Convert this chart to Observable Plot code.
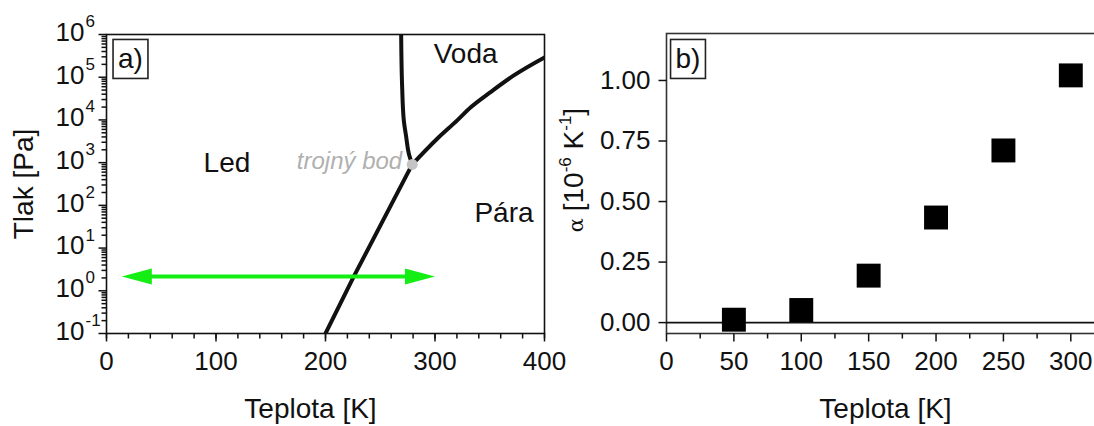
<!DOCTYPE html>
<html>
<head>
<meta charset="utf-8">
<script src="https://cdn.jsdelivr.net/npm/d3@7"></script>
<script src="https://cdn.jsdelivr.net/npm/@observablehq/plot@0.6"></script>
<style>
  html, body { margin: 0; padding: 0; background: #fff; overflow: hidden; }
  #wrap { position: relative; width: 1094px; height: 426px; overflow: hidden; color: #111; }
  #a, #b { position: absolute; top: 0; }
  #a { left: 0; width: 560px; }
  #b { left: 560px; width: 544px; }
  #wrap svg { max-width: none; overflow: visible; }
</style>
</head>
<body>
<div id="wrap"><div id="a"></div><div id="b"></div></div>
<script>
// ---- Panel a): phase diagram of water (T in K, p in Pa) ----
const decades = [-1, 0, 1, 2, 3, 4, 5, 6];
const xTicksA = [0, 100, 200, 300, 400];
const xDomainA = [0, 400];
const yDomainA = [0.1, 1e6];

// ice / vapour boundary
const sublimT = [200, 226, 279.2];
const sublimP = [0.1, 2.2, 910];
// ice / water boundary
const meltT = [279.2, 276, 273.7, 271.5, 270, 269.1];
const meltP = [910, 1660, 4000, 9800, 59000, 1e6];
// water / vapour boundary
const vapT = [279.2, 302, 320.3, 332.4, 350.7, 372, 400];
const vapP = [910, 3630, 9770, 19500, 44700, 110000, 290000];

const tripleT = 279.2, tripleP = 910;
const arrowT = [14, 300];
const arrowP = 2.16;

const phaseNames = ["Led", "Voda", "Pára"];
const phaseT = [110, 328, 363];
const phaseP = [955, 3.4e5, 66];

// ---- Panel b): thermal expansion coefficient ----
const xTicksB = [0, 50, 100, 150, 200, 250, 300];
const yTicksB = [0, 0.25, 0.5, 0.75, 1.0];
const xDomainB = [0, 325];
const yDomainB = [-0.045, 1.194];
const alphaT = [50, 100, 150, 200, 250, 300];
const alphaV = [0.012, 0.052, 0.194, 0.434, 0.711, 1.021];

const font = "'Liberation Sans', Arial, Helvetica, sans-serif";
const ink = "#111";
const green = "#14ee14";
const SVGNS = "http://www.w3.org/2000/svg";

const pairs = (xs, ys) => xs.map((x, i) => ({x, y: ys[i]}));

// minor tick positions
const xMinorA = d3.range(0, 401, 20);
const yMinorA = [];
for (let n = -1; n < 6; n++) for (let k = 2; k <= 9; k++) yMinorA.push(k * 10 ** n);
const xMinorB = d3.range(25, 326, 50);

const H = 426;
const MAJOR = 8, MINOR = 5;

// tick marks: small filled bars drawn outward from the frame edge
const barShape = {draw(context, l, r) { context.rect(-r, -l, 2 * r, l); }};
const bottomTicks = (ticks, yEdge, len) =>
  Plot.vector(ticks, {x: d => d, y: yEdge, length: len, r: 0.75, rotate: 180, anchor: "start",
                      shape: barShape, fill: ink, stroke: "none"});
const leftTicks = (ticks, xEdge, len) =>
  Plot.vector(ticks, {x: xEdge, y: d => d, length: len, r: 0.75, rotate: -90, anchor: "start",
                      shape: barShape, fill: ink, stroke: "none"});

const labelStyle = {label: null, tickSize: 0, fill: ink};

const plotA = Plot.plot({
  width: 560, height: H,
  marginTop: 34, marginRight: 16, marginBottom: 93, marginLeft: 106,
  style: {fontFamily: font, fontSize: "26px", color: ink, overflow: "visible"},
  x: {domain: xDomainA},
  y: {type: "log", domain: yDomainA},
  marks: [
    Plot.frame({stroke: ink, strokeWidth: 1.6}),
    bottomTicks(xMinorA, yDomainA[0], MINOR),
    bottomTicks(xTicksA, yDomainA[0], MAJOR),
    leftTicks(yMinorA, xDomainA[0], MINOR),
    leftTicks(decades.map(d => 10 ** d), xDomainA[0], MAJOR),
    Plot.axisX({...labelStyle, ticks: xTicksA, tickPadding: MAJOR + 10}),
    Plot.axisY({...labelStyle, ticks: decades.map(d => 10 ** d), tickPadding: MAJOR + 14, dy: -2,
                tickFormat: () => "10"}),
    Plot.text(decades, {y: d => 10 ** d, text: d => String(d), frameAnchor: "left",
                        textAnchor: "start", lineAnchor: "middle", dx: -21, dy: -13, fontSize: 17, fill: ink}),
    Plot.line(pairs(sublimT, sublimP), {x: "x", y: "y", stroke: ink, strokeWidth: 4, clip: true}),
    Plot.line(pairs(meltT, meltP), {x: "x", y: "y", stroke: ink, strokeWidth: 4, curve: "monotone-y", clip: true}),
    Plot.line(pairs(vapT, vapP), {x: "x", y: "y", stroke: ink, strokeWidth: 4, curve: "monotone-x", clip: true}),
    Plot.dot([tripleT], {x: d => d, y: tripleP, r: 5.5, fill: "#c4c4c4", stroke: "none"}),
    Plot.text([tripleT], {x: d => d, y: tripleP, text: () => "trojný bod", textAnchor: "end",
                          dx: -10, dy: -3, fontStyle: "italic", fill: "#b0b0b0", fontSize: 24}),
    Plot.text(phaseNames, {x: (d, i) => phaseT[i], y: (d, i) => phaseP[i], text: d => d,
                           fontSize: 28, fill: ink}),
    Plot.arrow([arrowT], {x1: d => d[0], x2: d => d[1], y1: arrowP, y2: arrowP,
                          insetStart: 26, insetEnd: 26, headLength: 0, stroke: green, strokeWidth: 4}),
    Plot.vector(arrowT, {x: d => d, y: arrowP, rotate: (d, i) => (i ? 90 : -90), length: 30, r: 8,
                         shape: "spike", anchor: "end", fill: green, stroke: "none"}),
    Plot.text(["a)"], {text: d => d, frameAnchor: "top-left", textAnchor: "middle", lineAnchor: "middle",
                       dx: 24, dy: 25, fontSize: 28, fill: ink, className: "panel-tag"}),
    Plot.text(["Tlak [Pa]"], {text: d => d, frameAnchor: "left", textAnchor: "middle", lineAnchor: "middle",
                              rotate: -90, dx: -82, fontSize: 28, fill: ink}),
    Plot.text(["Teplota [K]"], {text: d => d, frameAnchor: "bottom", textAnchor: "middle", lineAnchor: "middle",
                                dx: -15, dy: 76, fontSize: 28, fill: ink})
  ]
});

const plotB = Plot.plot({
  width: 544, height: H,
  marginTop: 33, marginRight: 0, marginBottom: 93, marginLeft: 106,
  style: {fontFamily: font, fontSize: "26px", color: ink, overflow: "visible"},
  x: {domain: xDomainB},
  y: {domain: yDomainB},
  marks: [
    Plot.frame({stroke: "#333", strokeWidth: 1.6}),
    Plot.ruleY([0], {stroke: ink, strokeWidth: 1.6}),
    bottomTicks(xMinorB, yDomainB[0], MINOR),
    bottomTicks(xTicksB, yDomainB[0], MAJOR),
    leftTicks(yTicksB, xDomainB[0], MAJOR),
    Plot.axisX({...labelStyle, ticks: xTicksB, tickPadding: MAJOR + 10}),
    Plot.axisY({...labelStyle, ticks: yTicksB, tickPadding: MAJOR + 8, tickFormat: d3.format(".2f")}),
    Plot.dot(pairs(alphaT, alphaV), {x: "x", y: "y", symbol: "square", r: 13.5, fill: "#000", stroke: "none"}),
    Plot.text(["b)"], {text: d => d, frameAnchor: "top-left", textAnchor: "middle", lineAnchor: "middle",
                       dx: 21.5, dy: 26, fontSize: 28, fill: ink, className: "panel-tag"}),
    Plot.text(["Teplota [K]"], {text: d => d, frameAnchor: "bottom", textAnchor: "middle", lineAnchor: "middle",
                                dy: 76, fontSize: 28, fill: ink})
  ]
});

document.getElementById("a").append(plotA);
document.getElementById("b").append(plotB);

// framed panel tags
function boxTags(svg) {
  svg.querySelectorAll(".panel-tag text").forEach(t => {
    const b = t.getBBox();
    const padX = 5, padY = 6;
    const r = document.createElementNS(SVGNS, "rect");
    r.setAttribute("x", b.x - padX);
    r.setAttribute("y", b.y - padY + 2);
    r.setAttribute("width", b.width + 2 * padX);
    r.setAttribute("height", b.height + 2 * padY - 4);
    r.setAttribute("fill", "none");
    r.setAttribute("stroke", "#222");
    r.setAttribute("stroke-width", 1.6);
    const tr = t.getAttribute("transform");
    if (tr) r.setAttribute("transform", tr);
    t.parentNode.insertBefore(r, t);
  });
}
boxTags(plotA);
boxTags(plotB);

// y title of panel b) with superscripts
const yt = d3.select(plotB).append("text")
  .attr("transform", "translate(23,170) rotate(-90)")
  .attr("text-anchor", "middle")
  .attr("font-family", font)
  .attr("font-size", 28)
  .attr("fill", ink);
yt.append("tspan").attr("font-family", "'DejaVu Serif', 'Liberation Serif', serif").attr("font-size", 21).text("α ");
yt.append("tspan").text("[10");
yt.append("tspan").attr("font-size", 17).attr("dy", -12).text("-6");
yt.append("tspan").attr("dy", 12).text(" K");
yt.append("tspan").attr("font-size", 17).attr("dy", -12).text("-1");
yt.append("tspan").attr("dy", 12).text("]");
</script>
</body>
</html>
